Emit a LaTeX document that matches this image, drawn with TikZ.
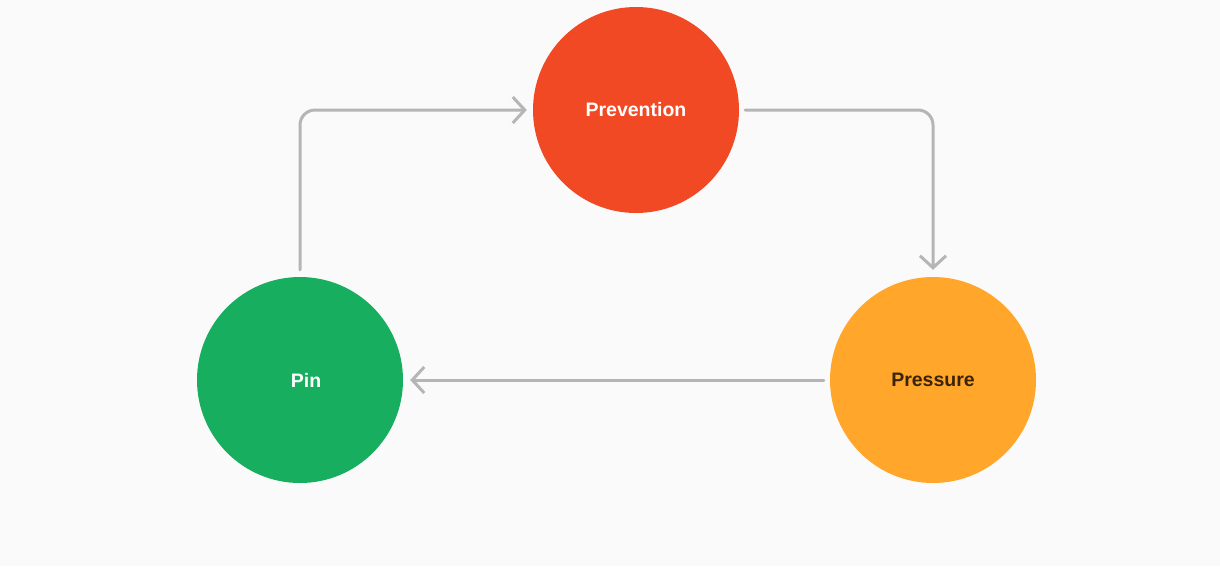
\documentclass[tikz,border=0pt]{standalone}
\usepackage{fontspec}
\setmainfont{Liberation Sans}
\usetikzlibrary{arrows.meta}
\definecolor{bg}{HTML}{FAFAFA}
\definecolor{cPrev}{HTML}{F04923}
\definecolor{cPres}{HTML}{FFA62B}
\definecolor{cPin}{HTML}{17AE5F}
\definecolor{cGray}{HTML}{B5B5B5}
\definecolor{cDark}{HTML}{3A2306}
\tikzset{
  blob/.style={circle, minimum size=206pt, inner sep=0pt, font=\fontsize{19.5}{23}\selectfont\bfseries, text=white},
  conn/.style={draw=cGray, line width=3pt, line cap=round, line join=round, rounded corners=15pt,
    -{Straight Barb[length=12pt,width=26pt,line width=3pt]}}
}
\begin{document}
\begin{tikzpicture}[x=1pt,y=-1pt]
\fill[bg] (0,0) rectangle (1220,566);
\useasboundingbox (0,0) rectangle (1220,566);
\node[blob, fill=cPrev] (prev) at (636,110) {Prevention};
\node[blob, fill=cPres, text=cDark] (pres) at (933,380) {Pressure};
\node[blob, fill=cPin] (pin) at (300,380) {\hspace*{12pt}Pin};
\coordinate (a1) at (300,110);
\coordinate (a2) at (933,110);
\draw[conn] ([yshift=7pt]pin.north) -- (a1) -- ([xshift=-6pt]prev.west);
\draw[conn] ([xshift=6pt]prev.east) -- (a2) -- ([yshift=7pt]pres.north);
\draw[conn] ([xshift=-6pt]pres.west) -- ([xshift=7pt]pin.east);
\end{tikzpicture}
\end{document}
